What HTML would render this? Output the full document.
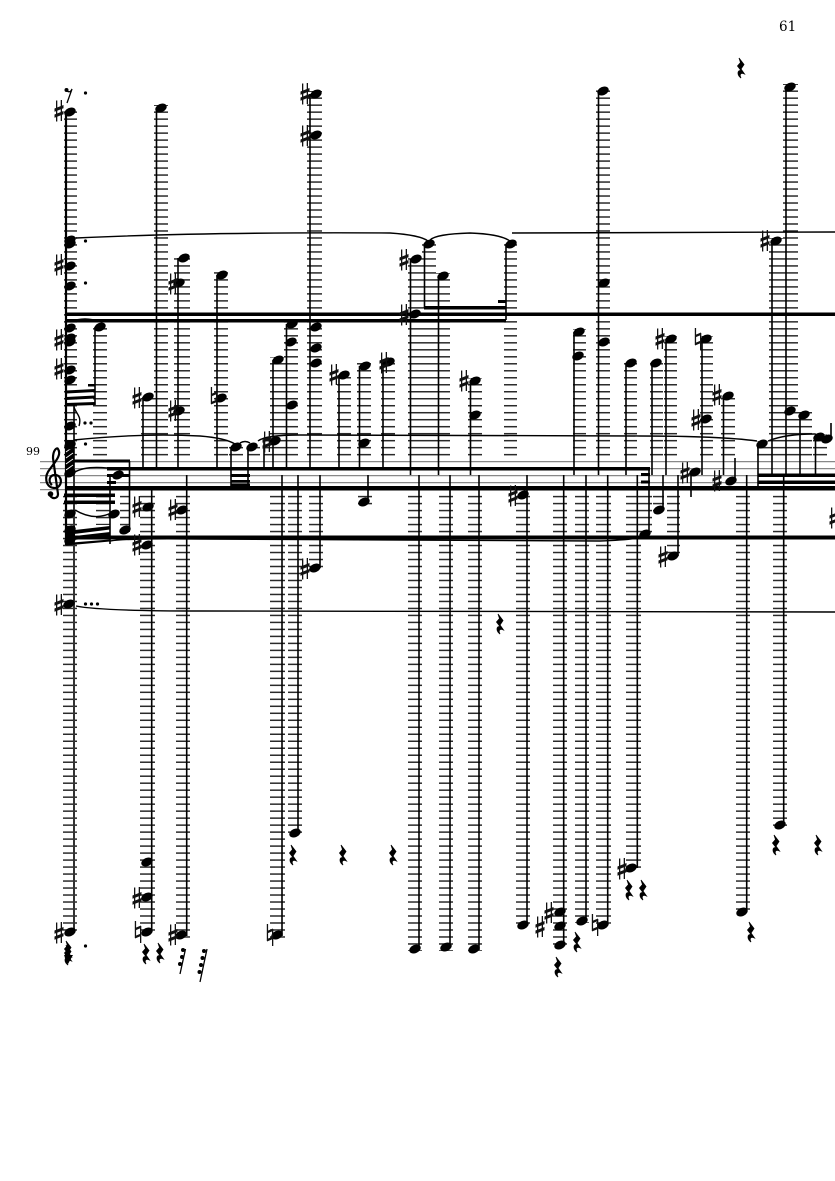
<!DOCTYPE html>
<html><head><meta charset="utf-8"><style>
html,body{margin:0;padding:0;background:#fff}
svg{display:block;position:absolute;left:0;top:0}
</style></head><body>
<svg width="835" height="1181" viewBox="0 0 835 1181" xmlns="http://www.w3.org/2000/svg">
<defs>
<pattern id="L" patternUnits="userSpaceOnUse" width="835" height="6.99" patternTransform="translate(0,460.9)"><rect width="835" height="1.5" fill="#2a2a2a"/></pattern>
<ellipse id="n" rx="6" ry="4.100" transform="rotate(-25)" fill="#000"/>
<g id="s" fill="#111"><rect x="-3" y="-10.500" width="1.300" height="21"/><rect x="1.700" y="-11" width="1.300" height="21"/><path d="M-4.500-2.500L4.500-6V-2.800L-4.500 .7zM-4.500 3.500L4.500 0V3.200L-4.500 6.700z"/></g>
<g id="f" fill="#111"><rect x="-3.200" y="-11" width="1.300" height="17"/><rect x="2" y="-6" width="1.300" height="17"/><path d="M-3-4L3-6.500V-4L-3-1.500zM-3 4L3 1.500V4L-3 6.500z"/></g>
<path id="r" d="M-2-10L3-3.500L0 1L3.500 6C0 4.500-2 6 0 10C-4 7-4 2 0 2.500L-3.500-2L-.5-5.500z" fill="#000" stroke="#000" stroke-width=".8"/>
<circle id="d" r="1.600" fill="#000"/>
</defs>
<rect width="835" height="1181" fill="#fff"/>
<text x="779" y="31" font-family="'DejaVu Serif',serif" font-size="13.500" fill="#000">61</text>
<text x="26" y="455" font-family="'DejaVu Serif',serif" font-size="11" fill="#000">99</text>

<path fill="#888" d="M40 461h795v1.200H40zM40 468h795v1.200H40zM40 475h795v1.200H40zM40 482h795v1.200H40zM40 489h795v1.200H40z"/>

<path fill="url(#L)" d="M64 108h13V456H64zM93 325h14V456H93zM141 394h14V456H141zM154 105h14V456H154zM174 255h16V456H174zM214 272h14V456H214zM229 444h14V456H229zM248 444h12V456H248zM264 437h14V456H264zM270 357h15V456H270zM284 321h14V456H284zM307 91h15V456H307zM337 372h14V456H337zM357 363h14V456H357zM381 359h14V456H381zM408 256h14V456H408zM422 241h14V456H422zM436 273h14V456H436zM468 378h14V456H468zM504 241h13V456H504zM573 329h13V456H573zM596 88h14V456H596zM624 360h13V456H624zM650 360h13V456H650zM664 336h13V456H664zM700 336h13V456H700zM721 393h14V456H721zM757 441h13V456H757zM769 238h14V456H769zM783 84h15V456H783zM798 412h14V456H798zM813 434h14V456H813z
M63 494h14V933H63zM140 494h15V936H140zM176 494h14V939H176zM270 494h15V938H270zM288 494h14V836H288zM309 494h14V571H309zM358 494h14V505H358zM408 494h14V951H408zM439 494h14V951H439zM468 494h14V951H468zM516 494h14V928H516zM553 494h14V948H553zM575 494h14V923H575zM596 494h15V926H596zM626 494h15V871H626zM637 494h15V536H637zM653 494h11V513H653zM667 494h13V556H667zM736 494h14V913H736zM773 494h14V826H773zM96 494h14V525H96zM120 494h10V532H120z"/>

<!-- stems -->
<g fill="none" stroke="#000" stroke-width="1.600">
<path stroke-width="2.200" d="M66 112V545"/>
<path stroke-width="2" stroke="#333" d="M74 461V932"/>
<path d="M74 405V461M95 327V405M143 397V468M156.500 108V468M178 258V468M217 275V468M231 447V488M248 447V488M264 440V468M273 360V468M286.500 324V468M310 94V468M339 375V468M359.500 366V468M383 362V468M410.500 259V475M424.500 244V308M438.500 276V475M470.500 381V475M506 244V320M574 332V475M598.500 91V475M626 363V475M652 363V475M666 339V475M702 339V475M723.500 396V475M758 444V488M772 241V475M786 87V475M800 415V475M815.500 437V475M831 423V438"/>
<path d="M151.700 490V932M186.700 475V936M282 475V936M298 475V834M320 475V568M368 475V502M419 475V950M450 475V948M479 475V950M527 475V925M563.700 475V946M586 475V922M607.700 475V925M637.300 475V868M649 469V535M663 475V510M678 475V556M691 473V497M735 458V481M746.700 475V912M783.700 475V825M110 475V544M129.500 461V530"/>
</g>

<!-- beams -->
<path fill="#000" d="M66 312.500H835V316H66zM66 319H506V322.500H66zM424 306H506V309.500H424zM498 300H506V303H498zM107 467H650V470.500H107zM65 486H835V490.500H65zM65 535.500H835V539.500H65zM73 459.500H130V462.500H73zM107 474H130V477H107zM107 481H116V484H107zM64 493.500H115V497H64zM64 500.500H115V504H64zM66 531L110 526V529.500L66 535zM66 537L110 532V535.500L66 541zM66 543L110 539.500V541.500L66 545.500zM66 526H75V541H66zM231 474H250V477H231zM231 480H250V482.500H231zM231 483.500H250V486H231zM641 473H650V476H641zM641 480.500H650V483.500H641zM758 473.500H835V477H758zM758 480.500H835V484H758zM66 390.500L95 389V392L66 393.500zM66 397L95 395.500V398.500L66 400zM66 403L95 402V405L66 406zM88 384H95V386.500H88zM65 440H74V476H65z"/>
<path stroke="#fff" stroke-width=".9" d="M66 452L73 447M66 458L73 453M66 464L73 459M66 470L73 465"/>

<!-- slurs -->
<g fill="none" stroke="#000" stroke-width="1.400">
<path d="M76 238Q200 232 390 233Q420 235 428 241M430 240Q436 234 470 233Q500 234 510 241M512 233L835 232"/>
<path d="M74 440Q140 433 200 436Q225 438 235 444M240 443Q245 440 250 443M258 441Q265 435 300 435L640 436Q720 436 757 441M768 441Q785 434 815 434L820 436"/>
<path d="M76 606Q100 611 200 611L835 612"/>
<path d="M110 541Q130 538 200 539L600 541Q630 540 645 537"/>
<path d="M75 510Q95 522 113 512M75 472Q85 466 107 468M74 407C76 414 82 416 79 426M70 322Q85 316 100 322"/>
</g>

<!-- clef -->
<path fill="none" stroke="#000" stroke-width="2.200" d="M50 494C50 499 58 500 58 494L53 458C53 450 57 447 58 449C62 455 55 462 50 469C44 476 45 487 54 488C63 488 63 475 55 475C49 475 48 482 52 485"/>
<circle cx="50.500" cy="494" r="2.800" fill="#000"/>

<!-- noteheads up -->
<use href="#n" x="70" y="112"/><use href="#n" x="70" y="240"/><use href="#n" x="70" y="244"/><use href="#n" x="70" y="266"/><use href="#n" x="70" y="286"/><use href="#n" x="70" y="328"/><use href="#n" x="70" y="338"/><use href="#n" x="70" y="342"/><use href="#n" x="70" y="370"/><use href="#n" x="70" y="380"/><use href="#n" x="70" y="426"/><use href="#n" x="70" y="445"/><use href="#n" x="70" y="473"/><use href="#n" x="70" y="514"/><use href="#n" x="70" y="530"/><use href="#n" x="70" y="540"/><use href="#n" x="69" y="604"/><use href="#n" x="70" y="932"/>
<use href="#n" x="100" y="327"/><use href="#n" x="148" y="397"/><use href="#n" x="161" y="108"/><use href="#n" x="184" y="258"/><use href="#n" x="179" y="283"/><use href="#n" x="179" y="411"/><use href="#n" x="222" y="275"/><use href="#n" x="221" y="398"/><use href="#n" x="236" y="447"/><use href="#n" x="252" y="447"/><use href="#n" x="275" y="441"/><use href="#n" x="278" y="360"/><use href="#n" x="292" y="324"/><use href="#n" x="291" y="342"/><use href="#n" x="292" y="405"/><use href="#n" x="316" y="94"/><use href="#n" x="316" y="135"/><use href="#n" x="316" y="327"/><use href="#n" x="316" y="348"/><use href="#n" x="316" y="363"/><use href="#n" x="344" y="375"/><use href="#n" x="365" y="366"/><use href="#n" x="364" y="443"/><use href="#n" x="389" y="362"/><use href="#n" x="416" y="259"/><use href="#n" x="415" y="314"/><use href="#n" x="429" y="244"/><use href="#n" x="443" y="276"/><use href="#n" x="475" y="381"/><use href="#n" x="475" y="415"/><use href="#n" x="511" y="244"/><use href="#n" x="579" y="332"/><use href="#n" x="578" y="356"/><use href="#n" x="603" y="91"/><use href="#n" x="604" y="283"/><use href="#n" x="604" y="342"/><use href="#n" x="631" y="363"/><use href="#n" x="656" y="363"/><use href="#n" x="671" y="339"/><use href="#n" x="706" y="339"/><use href="#n" x="706" y="419"/><use href="#n" x="728" y="396"/><use href="#n" x="762" y="444"/><use href="#n" x="776" y="241"/><use href="#n" x="790" y="87"/><use href="#n" x="790" y="411"/><use href="#n" x="804" y="415"/><use href="#n" x="819" y="437"/><use href="#n" x="827" y="439"/>
<!-- noteheads down / lower -->
<use href="#n" x="118" y="475"/><use href="#n" x="114" y="514"/><use href="#n" x="125" y="530"/><use href="#n" x="148" y="507"/><use href="#n" x="147" y="545"/><use href="#n" x="147" y="862"/><use href="#n" x="147" y="897"/><use href="#n" x="147" y="932"/><use href="#n" x="182" y="510"/><use href="#n" x="181" y="935"/><use href="#n" x="277" y="935"/><use href="#n" x="295" y="833"/><use href="#n" x="315" y="568"/><use href="#n" x="364" y="502"/><use href="#n" x="415" y="949"/><use href="#n" x="446" y="947"/><use href="#n" x="474" y="949"/><use href="#n" x="523" y="495"/><use href="#n" x="523" y="925"/><use href="#n" x="560" y="912"/><use href="#n" x="560" y="926"/><use href="#n" x="560" y="945"/><use href="#n" x="582" y="921"/><use href="#n" x="603" y="925"/><use href="#n" x="631" y="868"/><use href="#n" x="645" y="534"/><use href="#n" x="659" y="510"/><use href="#n" x="673" y="556"/><use href="#n" x="695" y="472"/><use href="#n" x="731" y="481"/><use href="#n" x="742" y="912"/><use href="#n" x="780" y="825"/>

<!-- sharps -->
<use href="#s" x="59" y="111"/><use href="#s" x="59" y="265"/><use href="#s" x="59" y="340"/><use href="#s" x="59" y="369"/><use href="#s" x="59" y="605"/><use href="#s" x="59" y="933"/><use href="#s" x="137" y="398"/><use href="#s" x="173" y="284"/><use href="#s" x="173" y="411"/><use href="#s" x="137" y="507"/><use href="#s" x="137" y="545"/><use href="#s" x="137" y="898"/><use href="#s" x="173" y="510"/><use href="#s" x="173" y="935"/><use href="#s" x="267" y="442"/><use href="#s" x="305" y="94"/><use href="#s" x="305" y="136"/><use href="#s" x="305" y="569"/><use href="#s" x="334" y="375"/><use href="#s" x="384" y="363"/><use href="#s" x="404" y="260"/><use href="#s" x="404" y="315"/><use href="#s" x="464" y="381"/><use href="#s" x="513" y="496"/><use href="#s" x="549" y="913"/><use href="#s" x="540" y="927"/><use href="#s" x="622" y="869"/><use href="#s" x="660" y="339"/><use href="#s" x="663" y="557"/><use href="#s" x="696" y="420"/><use href="#s" x="717" y="395"/><use href="#s" x="685" y="473"/><use href="#s" x="717" y="481"/><use href="#s" x="765" y="241"/><use href="#s" x="834" y="518"/>
<!-- naturals -->
<use href="#f" x="214" y="398"/><use href="#f" x="138" y="932"/><use href="#f" x="270" y="935"/><use href="#f" x="595" y="925"/><use href="#f" x="698" y="339"/>

<!-- rests -->
<use href="#r" x="741" y="68"/><use href="#r" x="293" y="855"/><use href="#r" x="343" y="855"/><use href="#r" x="393" y="855"/><use href="#r" x="500" y="624"/><use href="#r" x="776" y="845"/><use href="#r" x="818" y="845"/><use href="#r" x="629" y="890"/><use href="#r" x="643" y="890"/><use href="#r" x="751" y="932"/><use href="#r" x="146" y="954"/><use href="#r" x="160" y="953"/><use href="#r" x="558" y="967"/><use href="#r" x="577" y="942"/><use href="#r" x="68" y="951"/><use href="#r" x="68" y="955"/>
<path d="M64 955L73 955L68 964z" fill="#000"/>
<path d="M185.500 949L180 974M207 949L200 982M66 90Q70 94 72 89L67 103" stroke="#000" stroke-width="1.300" fill="none"/>
<circle cx="66.500" cy="90" r="2"/>
<circle cx="183" cy="950" r="2"/><circle cx="182" cy="957" r="2"/><circle cx="180" cy="964" r="2"/>
<circle cx="204" cy="951" r="2"/><circle cx="202.500" cy="958" r="2"/><circle cx="201" cy="965" r="2"/><circle cx="199.500" cy="972" r="2"/>

<!-- dots -->
<use href="#d" x="85.500" y="93"/><use href="#d" x="85.500" y="241"/><use href="#d" x="85.500" y="283"/><use href="#d" x="85.500" y="444"/><use href="#d" x="85.500" y="946"/><use href="#d" x="85" y="423"/><use href="#d" x="91" y="423"/><use href="#d" x="85.500" y="604"/><use href="#d" x="91.500" y="604"/><use href="#d" x="97.500" y="604"/>
</svg>
</body></html>
